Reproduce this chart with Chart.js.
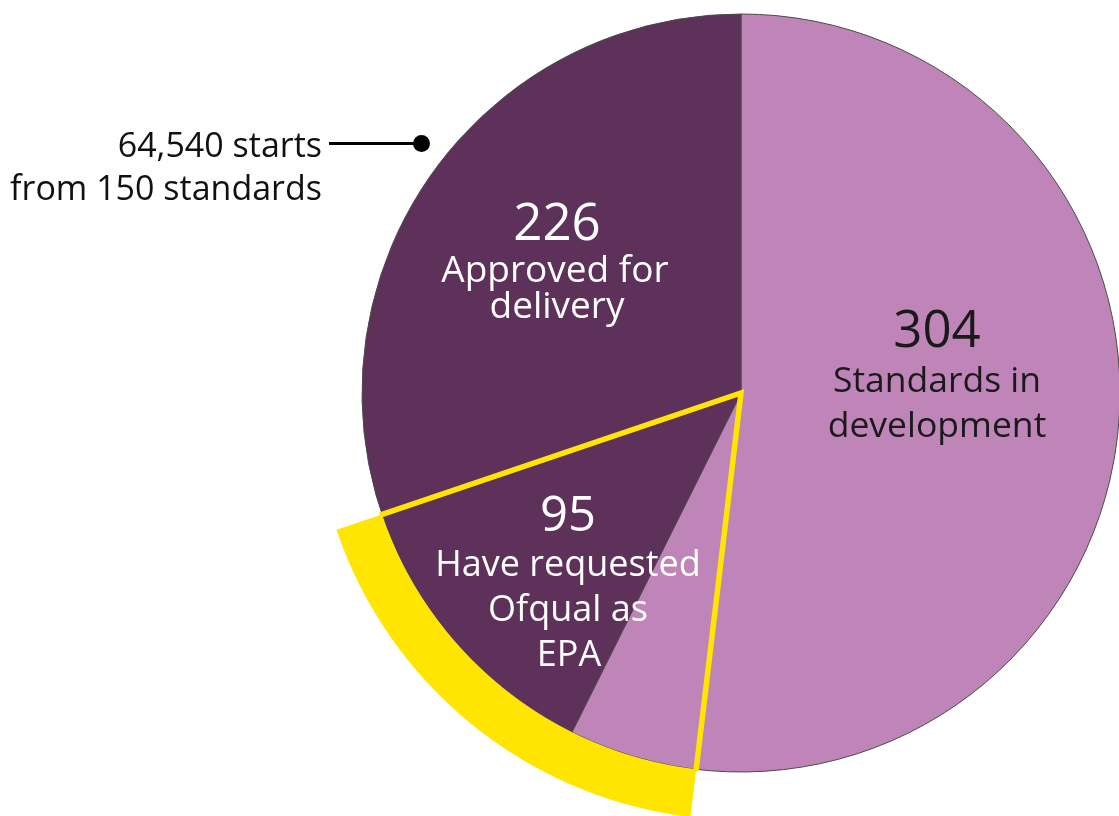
<!DOCTYPE html>
<html>
<head>
<meta charset="utf-8">
<script src="https://cdn.jsdelivr.net/npm/chart.js@4"></script>
<style>
  html, body { margin: 0; padding: 0; background: #fff; overflow: hidden; }
  #wrap { position: relative; width: 1119px; height: 816px; }
  #chart { position: absolute; left: 0; top: 0; }
  .lbl { position: absolute; white-space: nowrap; font-family: 'Open Sans', sans-serif; line-height: 1; }
</style>
</head>
<body>
<div id="wrap"><canvas id="chart" width="1119" height="816"></canvas></div>
<script>
// data
const categories = ['Standards in development', 'Approved for delivery'];
const standardCounts = [304, 226];
const epaRequested = 95;
const epaStartOffset = 275; // where the highlighted wedge begins (estimated, in standards)
const startsTotal = '64,540';
const startsStandards = 150;

const LIGHT = '#c085b8';
const DARK = '#5e315a';
const YELLOW = '#ffe500';

const total = standardCounts.reduce((a, b) => a + b, 0);

const wedgeOutline = {
    id: 'wedgeOutline',
    afterDatasetsDraw(chart) {
        const arc = chart.getDatasetMeta(0).data[1];
        const { x, y, startAngle, endAngle, innerRadius } =
            arc.getProps(['x', 'y', 'startAngle', 'endAngle', 'innerRadius'], true);
        const r = innerRadius + 2;
        const ctx = chart.ctx;
        ctx.save();
        ctx.strokeStyle = YELLOW;
        ctx.lineWidth = 5.5;
        ctx.lineJoin = 'miter';
        ctx.beginPath();
        ctx.moveTo(x + r * Math.cos(startAngle), y + r * Math.sin(startAngle));
        ctx.lineTo(x, y);
        ctx.lineTo(x + r * Math.cos(endAngle), y + r * Math.sin(endAngle));
        ctx.stroke();

        // leader line for the starts note
        ctx.strokeStyle = '#000';
        ctx.fillStyle = '#000';
        ctx.lineWidth = 3;
        ctx.beginPath();
        ctx.moveTo(329, 143.5);
        ctx.lineTo(416, 143.5);
        ctx.stroke();
        ctx.beginPath();
        ctx.arc(421.5, 143.5, 8.5, 0, Math.PI * 2);
        ctx.fill();
        ctx.restore();
    }
};

new Chart(document.getElementById('chart'), {
    type: 'pie',
    data: {
        labels: categories,
        datasets: [{
            label: 'Requested Ofqual as EPA',
            data: [epaStartOffset, epaRequested, total - epaStartOffset - epaRequested],
            backgroundColor: ['rgba(0,0,0,0)', YELLOW, 'rgba(0,0,0,0)'],
            borderWidth: 0,
            weight: 48
        }, {
            label: 'Standards',
            data: standardCounts,
            backgroundColor: [LIGHT, DARK],
            borderColor: '#4a4a4a',
            borderWidth: 1,
            weight: 379
        }]
    },
    options: {
        responsive: false,
        animation: false,
        radius: 427,
        layout: { padding: { left: 363, right: 0, top: 0, bottom: 30 } },
        plugins: {
            legend: { display: false },
            tooltip: { enabled: false }
        }
    },
    plugins: [wedgeOutline]
});

// text labels
const wrap = document.getElementById('wrap');
function addText(text, x, baseline, size, color, align) {
    const d = document.createElement('div');
    d.className = 'lbl';
    d.textContent = text;
    d.style.fontSize = size + 'px';
    d.style.color = color;
    d.style.top = (baseline - 0.888 * size) + 'px';
    if (align === 'right') {
        d.style.right = (1119 - x) + 'px';
    } else {
        d.style.left = x + 'px';
        d.style.transform = 'translateX(-50%)';
    }
    wrap.appendChild(d);
}

addText(String(standardCounts[1]), 557, 240, 51, '#fff');
addText('Approved for', 555, 282, 37, '#fff');
addText('delivery', 557, 318, 37, '#fff');

addText(String(standardCounts[0]), 937, 347, 51, '#1a1a1a');
addText('Standards in', 937, 393, 35.5, '#1a1a1a');
addText('development', 937, 438, 35.5, '#1a1a1a');

addText(String(epaRequested), 568, 532, 49, '#fff');
addText('Have requested', 568, 577, 36, '#fff');
addText('Ofqual as', 568, 622, 36, '#fff');
addText('EPA', 569, 667, 36, '#fff');

addText(startsTotal + ' starts', 322, 157, 34, '#111', 'right');
addText('from ' + startsStandards + ' standards', 322, 200, 34, '#111', 'right');
</script>
</body>
</html>
